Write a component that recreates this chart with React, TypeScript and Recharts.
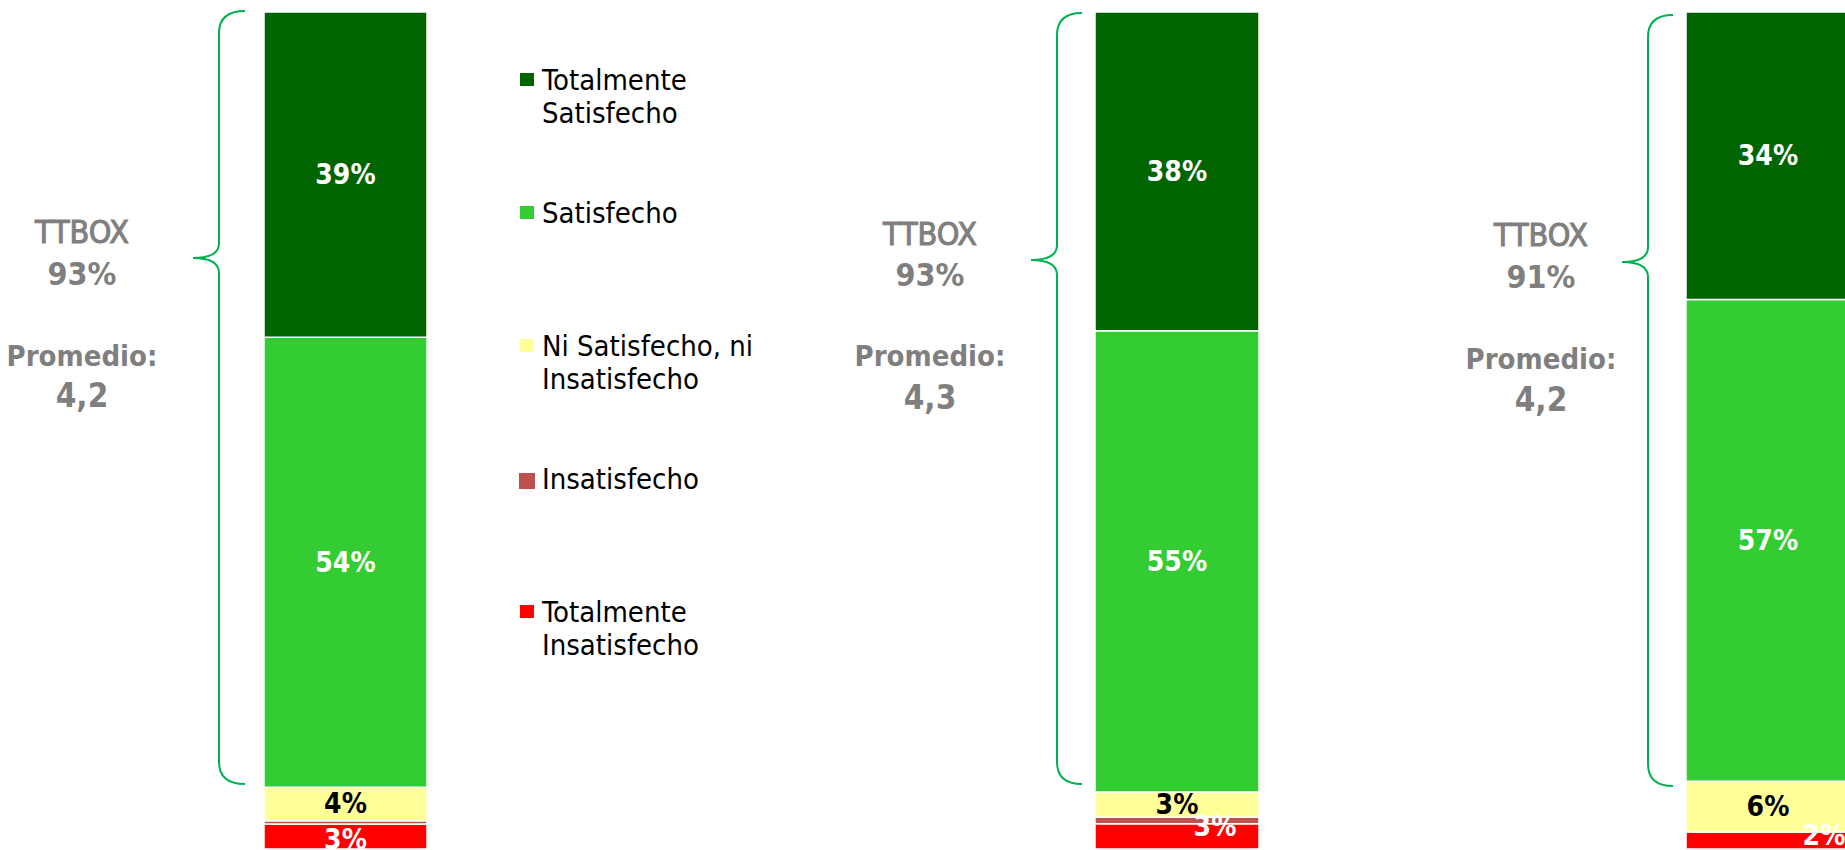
import { Bar, BarChart, LabelList, XAxis, YAxis } from "recharts";

// three survey groups, 100% stacked
const groups = ["Grupo 1", "Grupo 2", "Grupo 3"];
const totalmenteSatisfecho = [39, 38, 34];
const satisfecho = [54, 55, 57];
const niSatisfechoNiInsatisfecho = [4, 3, 6];
const insatisfecho = [0.4, 0.8, 0];
const totalmenteInsatisfecho = [3, 3, 2];
const ttbox = ["93%", "93%", "91%"];
const promedio = ["4,2", "4,3", "4,2"];

// bottom to top
const series = [
  { key: "ti", name: ["Totalmente", "Insatisfecho"], values: totalmenteInsatisfecho, fill: "#ff0000", text: "#ffffff" },
  { key: "ins", name: ["Insatisfecho"], values: insatisfecho, fill: "#c0504d", text: "#ffffff" },
  { key: "ni", name: ["Ni Satisfecho, ni", "Insatisfecho"], values: niSatisfechoNiInsatisfecho, fill: "#ffff99", text: "#000000" },
  { key: "s", name: ["Satisfecho"], values: satisfecho, fill: "#33cc33", text: "#ffffff" },
  { key: "ts", name: ["Totalmente", "Satisfecho"], values: totalmenteSatisfecho, fill: "#006400", text: "#ffffff" }
];

const layout = [
  { barX: 264, barW: 163, textX: 82, braceTop: 11, braceTip: 258, braceBottom: 784, brace: [245, 219, 193], textY: [243, 285, 366, 407], redLabel: [0, 3] },
  { barX: 1095, barW: 164, textX: 930, braceTop: 13, braceTip: 260, braceBottom: 784, brace: [1082, 1057, 1031], textY: [245, 286, 366, 409], redLabel: [38, -10] },
  { barX: 1686, barW: 164, textX: 1541, braceTop: 15, braceTip: 262, braceBottom: 786, brace: [1673, 1648, 1622], textY: [246, 288, 369, 411], redLabel: [56, -5] }
];

const condFont = '"DejaVu Sans Condensed", "DejaVu Sans", sans-serif';
const gray = "#7f7f7f";
const braceColor = "#00b050";

function makeLabel(value: number, color: string, dx: number, dy: number) {
  return (props: any) => {
    const vb = props.viewBox && props.viewBox.width != null ? props.viewBox : props;
    if (!(value >= 1)) return null;
    return (
      <text
        x={vb.x + vb.width / 2 + dx}
        y={vb.y + vb.height / 2 + dy}
        textAnchor="middle"
        dominantBaseline="central"
        fill={color}
        fontFamily={condFont}
        fontWeight="bold"
        fontSize={28}
      >
        {value}%
      </text>
    );
  };
}

function Panel({ i }: { i: number }) {
  const row: any = { name: groups[i] };
  series.forEach((s) => (row[s.key] = s.values[i]));
  const l = layout[i];
  return (
    <BarChart
      width={l.barW}
      height={850}
      data={[row]}
      margin={{ top: 12, right: 0, bottom: 1, left: 0 }}
      stackOffset="expand"
      barCategoryGap={0}
    >
      <XAxis dataKey="name" hide />
      <YAxis hide domain={[0, 1]} />
      {series.map((s) => {
        const [dx, dy] = s.key === "ti" ? l.redLabel : [0, 0];
        return (
          <Bar key={s.key} dataKey={s.key} stackId="a" fill={s.fill} stroke="#ffffff" strokeWidth={1.5} isAnimationActive={false}>
            <LabelList dataKey={s.key} content={makeLabel(s.values[i], s.text, dx, dy)} />
          </Bar>
        );
      })}
    </BarChart>
  );
}

function bracePath(l: (typeof layout)[number]) {
  const [xe, xv, xt] = l.brace;
  const r = 22;
  const t = 15;
  return [
    `M ${xe} ${l.braceTop}`,
    `Q ${xv} ${l.braceTop} ${xv} ${l.braceTop + r}`,
    `L ${xv} ${l.braceTip - t}`,
    `Q ${xv} ${l.braceTip} ${xt} ${l.braceTip}`,
    `Q ${xv} ${l.braceTip} ${xv} ${l.braceTip + t}`,
    `L ${xv} ${l.braceBottom - r}`,
    `Q ${xv} ${l.braceBottom} ${xe} ${l.braceBottom}`
  ].join(" ");
}

const legendItems = [...series].reverse();

export default function App() {
  return (
    <div style={{ position: "absolute", left: 0, top: 0, width: 1845, height: 850, overflow: "hidden", background: "#fff" }}>
      {groups.map((g, i) => (
        <div key={g} style={{ position: "absolute", left: layout[i].barX, top: 0 }}>
          <Panel i={i} />
        </div>
      ))}
      <svg width={1845} height={850} style={{ position: "absolute", left: 0, top: 0 }}>
        {layout.map((l, i) => (
          <g key={i}>
            <path d={bracePath(l)} fill="none" stroke={braceColor} strokeWidth={2} />
            <text x={l.textX} y={l.textY[0]} textAnchor="middle" fill={gray} stroke={gray} strokeWidth={1} fontFamily={condFont} fontSize={32}>
              TTBOX
            </text>
            <text x={l.textX} y={l.textY[1]} textAnchor="middle" fill={gray} fontFamily={condFont} fontWeight="bold" fontSize={32}>
              {ttbox[i]}
            </text>
            <text x={l.textX} y={l.textY[2]} textAnchor="middle" fill={gray} fontFamily={condFont} fontWeight="bold" fontSize={29}>
              Promedio:
            </text>
            <text x={l.textX} y={l.textY[3]} textAnchor="middle" fill={gray} fontFamily={condFont} fontWeight="bold" fontSize={33}>
              {promedio[i]}
            </text>
          </g>
        ))}
        {legendItems.map((s, k) => {
          const base = 90 + k * 133;
          const big = s.key === "ins";
          return (
            <g key={s.key}>
              <rect x={big ? 519 : 520} y={base - (big ? 16 : 17)} width={big ? 16 : 14} height={big ? 16 : 13} fill={s.fill} />
              {s.name.map((line, j) => (
                <text key={j} x={542} y={base + j * 33} fontFamily={condFont} fontSize={29} fill="#000">
                  {line}
                </text>
              ))}
            </g>
          );
        })}
      </svg>
    </div>
  );
}
